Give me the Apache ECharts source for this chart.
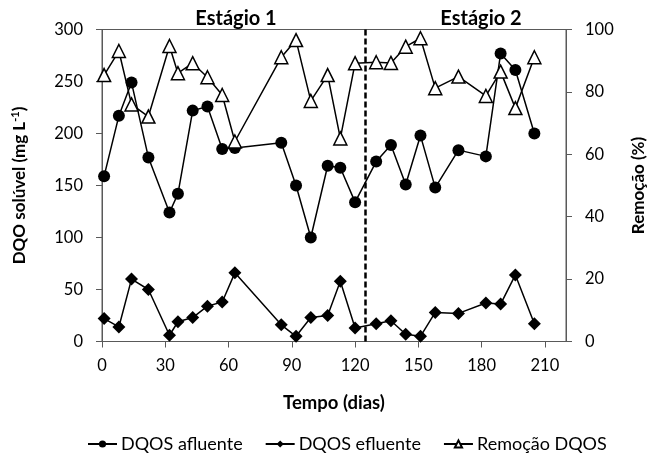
<!DOCTYPE html>
<html>
<head>
<meta charset="utf-8">
<script src="https://cdn.jsdelivr.net/npm/echarts@6/dist/echarts.min.js"></script>
<style>html,body{margin:0;padding:0;background:#fff}#c{width:655px;height:455px}</style>
</head>
<body>
<div id="c"></div>
<script>
var days = [1, 8, 14, 22, 32, 36, 43, 50, 57, 63, 85, 92, 99, 107, 113, 120, 130, 137, 144, 151, 158, 169, 182, 189, 196, 205];
var afluente = [159, 217, 249, 177, 124, 142, 222, 226, 185, 186, 191, 150, 100, 169, 167, 134, 173, 189, 151, 198, 148, 184, 178, 277, 261, 200];
var efluente = [22, 14, 60, 50, 6, 19, 23, 34, 38, 66, 16, 5, 23, 25, 58, 13, 17, 20, 7, 5, 28, 27, 37, 36, 64, 17];
var remocao = [85.4, 93.1, 76.0, 72.1, 94.7, 86.0, 89.2, 84.7, 79.0, 64.1, 91.1, 96.6, 77.1, 85.4, 65.1, 89.2, 89.5, 89.3, 94.5, 97.2, 81.2, 84.9, 78.7, 86.5, 74.8, 91.1];
var stageBoundary = 125;
var stageLabels = ['Estágio 1', 'Estágio 2'];
var seriesNames = ['DQOS afluente', 'DQOS efluente', 'Remoção DQOS'];

function pairs(xs, ys) { return xs.map(function (x, i) { return [x, ys[i]]; }); }

var FONT = 'Lato';
var axisCol = '#595959';
var chart = echarts.init(document.getElementById('c'), null, { renderer: 'canvas' });
chart.setOption({
  animation: false,
  textStyle: { fontFamily: FONT, color: '#000' },
  grid: { left: 102, right: 82, top: 29.5, bottom: 113.5, show: true, borderColor: axisCol, borderWidth: 1, backgroundColor: 'transparent' },
  title: [
    { text: stageLabels[0], left: 231, top: 4, textAlign: 'center', textStyle: { fontFamily: FONT, fontSize: 20, fontWeight: 'bold', color: '#000' } },
    { text: stageLabels[1], left: 476, top: 4, textAlign: 'center', textStyle: { fontFamily: FONT, fontSize: 20, fontWeight: 'bold', color: '#000' } }
  ],
  legend: {
    top: 430, left: 82, itemWidth: 29, itemHeight: 9, itemGap: 22,
    textStyle: { fontFamily: FONT, fontSize: 18, color: '#000', padding: [0, 0, 0, -1] },
    data: seriesNames
  },
  xAxis: {
    type: 'value', min: 0, max: 220, interval: 30,
    name: 'Tempo (dias)', nameLocation: 'middle', nameGap: 52,
    nameTextStyle: { fontFamily: FONT, fontSize: 18.5, fontWeight: 'bold', color: '#000' },
    axisLine: { show: true, lineStyle: { color: axisCol, width: 1 } },
    axisTick: { show: true, length: 6, lineStyle: { color: axisCol } },
    axisLabel: { fontFamily: FONT, fontSize: 16.5, color: '#000', margin: 16, showMaxLabel: false },
    splitLine: { show: false }
  },
  yAxis: [
    {
      type: 'value', min: 0, max: 300, interval: 50, position: 'left',
      name: '{a|DQO solúvel (mg L}{s|-1}{a|)}', nameLocation: 'middle', nameRotate: 90, nameGap: 73,
      nameTextStyle: { rich: {
        a: { fontFamily: FONT, fontSize: 17, fontWeight: 'bold', color: '#000' },
        s: { fontFamily: FONT, fontSize: 11, fontWeight: 'bold', color: '#000', verticalAlign: 'top', padding: [0, 0, 8, 0] }
      } },
      axisLine: { show: true, lineStyle: { color: axisCol, width: 1 } },
      axisTick: { show: true, length: 6, lineStyle: { color: axisCol } },
      axisLabel: { fontFamily: FONT, fontSize: 16.5, color: '#000', margin: 19 },
      splitLine: { show: false }
    },
    {
      type: 'value', min: 0, max: 100, interval: 20, position: 'right',
      name: 'Remoção (%)', nameLocation: 'middle', nameRotate: 90, nameGap: 64,
      nameTextStyle: { fontFamily: FONT, fontSize: 17, fontWeight: 'bold', color: '#000' },
      axisLine: { show: true, lineStyle: { color: axisCol, width: 1 } },
      axisTick: { show: true, length: 6, lineStyle: { color: axisCol } },
      axisLabel: { fontFamily: FONT, fontSize: 16.5, color: '#000', margin: 19 },
      splitLine: { show: false }
    }
  ],
  series: [
    {
      name: seriesNames[0], type: 'line', yAxisIndex: 0, data: pairs(days, afluente),
      symbol: 'circle', symbolSize: 12,
      lineStyle: { color: '#000', width: 1.5 }, itemStyle: { color: '#000' },
      markLine: {
        silent: true, symbol: 'none', label: { show: false },
        lineStyle: { color: '#000', width: 2.5, type: [6, 3] },
        data: [{ xAxis: stageBoundary }]
      }
    },
    {
      name: seriesNames[1], type: 'line', yAxisIndex: 0, data: pairs(days, efluente),
      symbol: 'diamond', symbolSize: 13,
      lineStyle: { color: '#000', width: 1.5 }, itemStyle: { color: '#000' }
    },
    {
      name: seriesNames[2], type: 'line', yAxisIndex: 1, data: pairs(days, remocao),
      symbol: 'triangle', symbolSize: 13,
      lineStyle: { color: '#000', width: 1.5 }, itemStyle: { color: '#fff', borderColor: '#000', borderWidth: 1.5 }
    }
  ]
});
</script>
</body>
</html>
